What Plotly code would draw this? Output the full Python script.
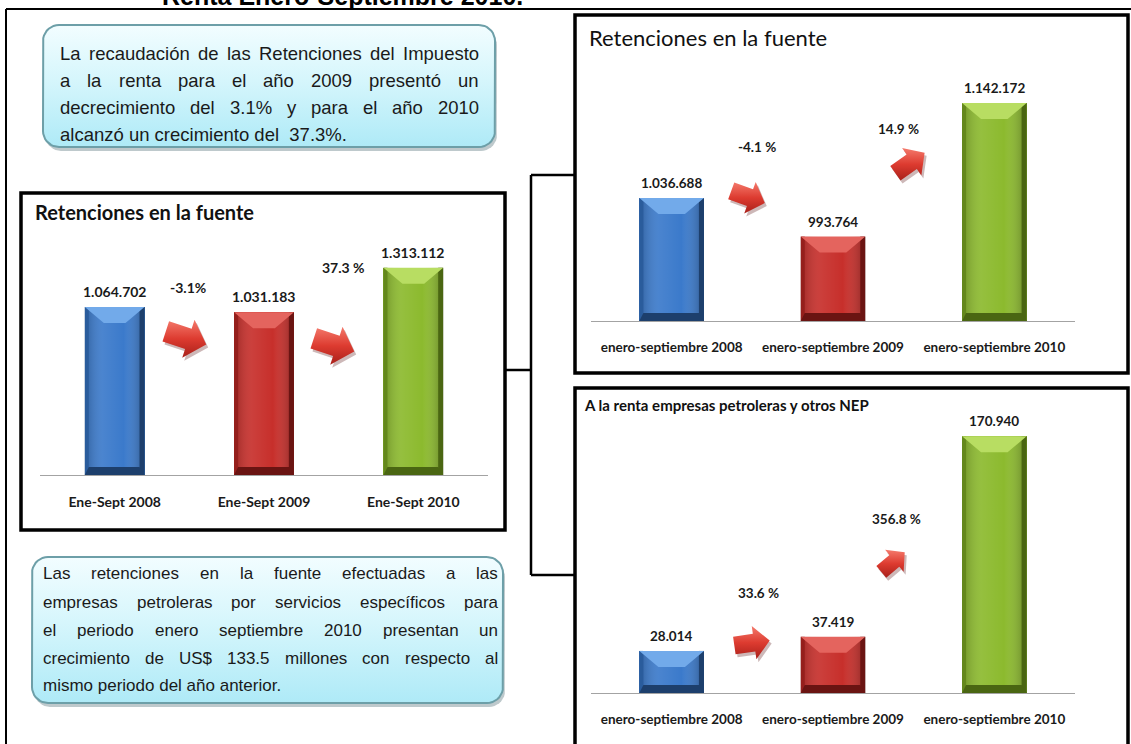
import numpy as np
import plotly.graph_objects as go

W, H = 1131, 744

# ---------------- data ----------------
periods_short = ["Ene-Sept 2008", "Ene-Sept 2009", "Ene-Sept 2010"]
periods_long = ["enero-septiembre 2008", "enero-septiembre 2009", "enero-septiembre 2010"]

retenciones_total = [1064702, 1031183, 1313112]
retenciones_total_var = ["-3.1%", "37.3 %"]

retenciones_fuente = [1036688, 993764, 1142172]
retenciones_fuente_var = ["-4.1 %", "14.9 %"]

petroleras_nep = [28014, 37419, 170940]
petroleras_nep_var = ["33.6 %", "356.8 %"]

page_title = "Renta Enero-Septiembre 2010."
title_total = "Retenciones en la fuente"
title_fuente = "Retenciones en la fuente"
title_petro = "A la renta empresas petroleras y otros NEP"

note_top = [
    "La recaudación de las Retenciones del Impuesto",
    "a la renta  para el año 2009 presentó un",
    "decrecimiento del 3.1% y para el año 2010",
    "alcanzó un crecimiento del\u00a0 37.3%.",
]
note_bottom = [
    "Las retenciones en la fuente efectuadas a las",
    "empresas petroleras por servicios específicos para",
    "el periodo enero septiembre 2010 presentan un",
    "crecimiento de US$ 133.5 millones con respecto al",
    "mismo periodo del año anterior.",
]

# ---------------- styles ----------------
BAR_STYLES = [
    dict(face="#3b7acb", light="#72aaea", side="#2a5c9c", bottom="#1d3f6c"),
    dict(face="#c72f2b", light="#e4645e", side="#951f1c", bottom="#6a1412"),
    dict(face="#8cba2e", light="#b8dd62", side="#64881c", bottom="#4a6612"),
]
CHART_FONT = "Lato, Carlito, Calibri, sans-serif"
NOTE_FONT = "Liberation Sans, Arial, sans-serif"
INK = "#1a1a1a"

panels = [
    dict(ax="", px=(40, 488), py=(220, 475), yr=(0, 1616000), values=retenciones_total,
         cats=periods_short, var=retenciones_total_var, var_pos=[(188, 287), (343, 267)],
         arrows=[(186, 338, 18, 1.25), (334, 345, 18, 1.25)], tick_size=14, val_size=14,
         title=title_total, title_pos=(33, 212), title_size=20, title_weight="bold"),
    dict(ax="2", px=(591, 1075), py=(60, 321), yr=(900000, 1190000), values=retenciones_fuente,
         cats=periods_long, var=retenciones_fuente_var, var_pos=[(757, 147), (898, 129)],
         arrows=[(748, 197, 20, 1.05), (910, 163, -35, 1.05)], tick_size=13.5, val_size=13.5,
         title=title_fuente, title_pos=(587, 37), title_size=22, title_weight="normal"),
    dict(ax="3", px=(591, 1075), py=(420, 693), yr=(0, 181800), values=petroleras_nep,
         cats=periods_long, var=petroleras_nep_var, var_pos=[(758, 593), (896, 519)],
         arrows=[(752, 643, -8, 1.05), (893, 562, -40, 0.9)], tick_size=13.5, val_size=13.5,
         title=title_petro, title_pos=(582, 405), title_size=15, title_weight="bold"),
]

fig = go.Figure()
annotations = []
shapes = []


def poly(xs, ys, xa, ya, color=None, gradient=None):
    kw = dict(x=list(xs) + [xs[0]], y=list(ys) + [ys[0]], mode="lines", line=dict(width=0),
              fill="toself", hoverinfo="skip", showlegend=False, xaxis=xa, yaxis=ya)
    if gradient is not None:
        kw["fillgradient"] = gradient
    else:
        kw["fillcolor"] = color
    fig.add_trace(go.Scatter(**kw))


def fmt(v):
    return f"{v:,}".replace(",", ".")


layout_axes = {}
BAR_W = 0.4
for p in panels:
    xa, ya = "x" + p["ax"], "y" + p["ax"]
    (px0, px1), (py0, py1), (y0, y1) = p["px"], p["py"], p["yr"]
    layout_axes["xaxis" + p["ax"]] = dict(
        domain=[px0 / W, px1 / W], range=[-0.5, 2.5], anchor=ya, showline=True,
        linecolor="#a3a3a3", linewidth=1, showgrid=False, zeroline=False, ticks="",
        tickvals=[0, 1, 2], ticktext=p["cats"], ticklabelstandoff=14,
        tickfont=dict(family=CHART_FONT, size=p["tick_size"], color=INK, weight="bold"),
        fixedrange=True)
    layout_axes["yaxis" + p["ax"]] = dict(
        domain=[1 - py1 / H, 1 - py0 / H], range=[y0, y1], anchor=xa, visible=False,
        fixedrange=True)

    sx = 3.0 / (px1 - px0)
    sy = (y1 - y0) / (py1 - py0)
    base = max(0, y0)
    fig.add_trace(go.Bar(x=[0, 1, 2], y=p["values"], width=BAR_W,
                         marker=dict(color=[s["face"] for s in BAR_STYLES], line=dict(width=0)),
                         hoverinfo="skip", showlegend=False, xaxis=xa, yaxis=ya))
    for i, v in enumerate(p["values"]):
        st = BAR_STYLES[i]
        L, R, T, B = i - BAR_W / 2, i + BAR_W / 2, v, base
        # face shading
        poly([L, R, R, L], [B, B, T, T], xa, ya, gradient=dict(
            type="horizontal", start=L, stop=R,
            colorscale=[[0, "rgba(0,0,0,0.22)"], [0.3, "rgba(255,255,255,0.08)"],
                        [0.65, "rgba(255,255,255,0.0)"], [1, "rgba(0,0,0,0.3)"]]))
        # side strips
        poly([L, L + 4 * sx, L + 4 * sx, L], [B, B, T, T], xa, ya, st["side"])
        poly([R - 5 * sx, R, R, R - 5 * sx], [B, B, T, T], xa, ya, st["bottom"])
        # bottom strip
        poly([L, R, R - 5 * sx, L + 4 * sx], [B, B, B + 8 * sy, B + 8 * sy], xa, ya, st["bottom"])
        # top bevel
        poly([L, R, R - 19 * sx, L + 19 * sx], [T, T, T - 16 * sy, T - 16 * sy], xa, ya, st["light"])
        annotations.append(dict(x=i, y=v, xref=xa, yref=ya, text=fmt(v), showarrow=False,
                                yanchor="bottom", yshift=5,
                                font=dict(family=CHART_FONT, size=p["val_size"], color=INK,
                                          weight="bold")))
    for txt, (tx, ty) in zip(p["var"], p["var_pos"]):
        annotations.append(dict(x=tx, y=ty, xref="x4", yref="y4", text=txt, showarrow=False,
                                font=dict(family=CHART_FONT, size=p["val_size"], color=INK,
                                          weight="bold")))
    tx, ty = p["title_pos"]
    annotations.append(dict(x=tx, y=ty, xref="x4", yref="y4", text=p["title"], showarrow=False,
                            xanchor="left", font=dict(family=CHART_FONT, size=p["title_size"],
                                                      color="#111", weight=p["title_weight"])))

# ---------------- canvas (pixel) axis ----------------
layout_axes["xaxis4"] = dict(domain=[0, 1], range=[0, W], anchor="y4", visible=False, fixedrange=True)
layout_axes["yaxis4"] = dict(domain=[0, 1], range=[H, 0], anchor="x4", visible=False, fixedrange=True)


def rounded(x0, y0, x1, y1, r, n=10):
    xs, ys = [], []
    for cx, cy, a0, a1 in [(x1 - r, y0 + r, -90, 0), (x1 - r, y1 - r, 0, 90),
                           (x0 + r, y1 - r, 90, 180), (x0 + r, y0 + r, 180, 270)]:
        for t in np.radians(np.linspace(a0, a1, n)):
            xs.append(cx + r * np.cos(t))
            ys.append(cy + r * np.sin(t))
    return xs, ys


def callout(x0, y0, x1, y1):
    xs, ys = rounded(x0 + 2, y0 + 4, x1 + 2, y1 + 4, 16)
    poly(xs, ys, "x4", "y4", "rgba(70,100,110,0.35)")
    xs, ys = rounded(x0, y0, x1, y1, 16)
    fig.add_trace(go.Scatter(x=xs + [xs[0]], y=ys + [ys[0]], mode="lines",
                             line=dict(width=2, color="#6d9fa8"), fill="toself",
                             fillgradient=dict(type="vertical", start=y0, stop=y1,
                                               colorscale=[[0, "#f2fdff"], [0.45, "#d6f6fc"],
                                                           [1, "#aeeaf7"]]),
                             hoverinfo="skip", showlegend=False, xaxis="x4", yaxis="y4"))


callout(43, 25, 495, 147)
callout(32, 557, 503, 703)

# Arial / Liberation Sans advance widths (per 1000 em)
AW = {" ": 278, "\u00a0": 278, "a": 556, "b": 556, "c": 500, "d": 556, "e": 556, "f": 278,
      "g": 556, "h": 556, "i": 222, "j": 222, "k": 500, "l": 222, "m": 833, "n": 556, "o": 556,
      "p": 556, "q": 556, "r": 333, "s": 500, "t": 278, "u": 556, "v": 500, "w": 722, "x": 500,
      "y": 500, "z": 500, "L": 556, "R": 722, "I": 278, "U": 722, "S": 667, "$": 556, ".": 278,
      "%": 889, "á": 556, "ó": 556, "í": 278, "ñ": 556, "é": 556}


def tw(s, size):
    return sum(AW.get(c, 556) for c in s) * size / 1000.0


def justified(lines, x0, x1, ys, size):
    f = dict(family=NOTE_FONT, size=size, color=INK)
    for k, (line, y) in enumerate(zip(lines, ys)):
        words = line.split()
        if k == len(lines) - 1:
            annotations.append(dict(x=x0, y=y, xref="x4", yref="y4", text=line, showarrow=False,
                                    xanchor="left", borderpad=0, font=f))
            continue
        widths = [tw(w, size) for w in words]
        gap = (x1 - x0 - sum(widths)) / (len(words) - 1)
        x = x0
        for w, wd in zip(words, widths):
            annotations.append(dict(x=x, y=y, xref="x4", yref="y4", text=w, showarrow=False,
                                    xanchor="left", borderpad=0, font=f))
            x += wd + gap


justified(note_top, 59, 478, [53, 80, 107, 134], 18.5)
justified(note_bottom, 42, 497, [573, 602, 630, 658, 685], 17)


# ---------------- arrows ----------------
def arrow(cx, cy, ang, s):
    Lh, hl, hh, bh = 34 * s, 15 * s, 32 * s, 17 * s
    pts = [(-Lh / 2, -bh / 2), (Lh / 2 - hl, -bh / 2), (Lh / 2 - hl, -hh / 2), (Lh / 2, 0),
           (Lh / 2 - hl, hh / 2), (Lh / 2 - hl, bh / 2), (-Lh / 2, bh / 2)]
    th = np.radians(ang)
    xs = [cx + x * np.cos(th) - y * np.sin(th) for x, y in pts]
    ys = [cy + x * np.sin(th) + y * np.cos(th) for x, y in pts]
    poly([x + 2 for x in xs], [y + 3 for y in ys], "x4", "y4", "rgba(90,20,20,0.30)")
    poly(xs, ys, "x4", "y4", gradient=dict(type="vertical", start=min(ys), stop=max(ys),
                                           colorscale=[[0, "#f47a6c"], [0.5, "#dd3b30"],
                                                       [1, "#a9201a"]]))


for p in panels:
    for a in p["arrows"]:
        arrow(*a)

# ---------------- frames ----------------
def line(x0, y0, x1, y1, w=2.5):
    shapes.append(dict(type="line", xref="x4", yref="y4", x0=x0, y0=y0, x1=x1, y1=y1,
                       line=dict(color="black", width=w)))


def box(x0, y0, x1, y1):
    shapes.append(dict(type="rect", xref="x4", yref="y4", x0=x0, y0=y0, x1=x1, y1=y1,
                       line=dict(color="black", width=3.5)))


line(6, 9, 6, 760, 2)
line(6, 9, 1131, 9, 2)
box(21, 193, 505, 530)
box(575, 15, 1128, 373)
box(575, 388, 1128, 760)
line(505, 370, 531, 370)
line(531, 175, 531, 575)
line(531, 175, 575, 175)
line(531, 575, 575, 575)

# page title: only its lower part is visible at the top edge, as in the source image
annotations.append(dict(x=342 / W, y=1 + 4 / H, xref="paper", yref="paper", text=page_title,
                        showarrow=False, xanchor="center", yanchor="middle",
                        font=dict(family=NOTE_FONT, size=25, color="black", weight="bold")))

fig.update_layout(
    width=W, height=H, margin=dict(l=0, r=0, t=0, b=0),
    paper_bgcolor="white", plot_bgcolor="rgba(0,0,0,0)",
    annotations=annotations, shapes=shapes, showlegend=False, bargap=0,
    **layout_axes,
)

fig.write_html("out.html")
